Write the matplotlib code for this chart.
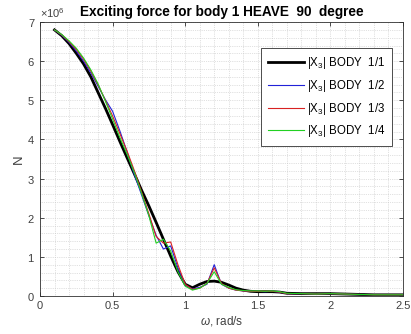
import matplotlib
matplotlib.use("Agg")
import matplotlib.pyplot as plt
from matplotlib.ticker import MultipleLocator, ScalarFormatter

plt.rcParams['font.family'] = ['Liberation Sans', 'DejaVu Sans']
plt.rcParams['mathtext.fontset'] = 'custom'
plt.rcParams['mathtext.rm'] = 'Liberation Sans'
plt.rcParams['mathtext.it'] = 'Liberation Sans:italic'

omega = [0.10, 0.15, 0.20, 0.25, 0.30, 0.35, 0.40, 0.45, 0.50, 0.55, 0.60, 0.65,
         0.70, 0.75, 0.80, 0.85, 0.90, 0.95, 1.00, 1.05, 1.10, 1.15, 1.20, 1.25,
         1.30, 1.35, 1.40, 1.45, 1.50, 1.55, 1.60, 1.65, 1.70, 1.80, 1.90, 2.00,
         2.10, 2.20, 2.30, 2.40, 2.50]

body_1_1 = [6.80, 6.65, 6.45, 6.20, 5.93, 5.60, 5.20, 4.80, 4.38, 3.95, 3.53, 3.12,
            2.70, 2.30, 1.88, 1.45, 1.02, 0.62, 0.30, 0.21, 0.30, 0.37, 0.38, 0.35,
            0.28, 0.20, 0.15, 0.12, 0.11, 0.11, 0.11, 0.10, 0.07, 0.06, 0.06, 0.06,
            0.05, 0.04, 0.03, 0.03, 0.03]
body_1_2 = [6.80, 6.66, 6.48, 6.26, 6.00, 5.70, 5.36, 5.02, 4.72, 4.22, 3.68, 3.10,
            2.58, 2.05, 1.55, 1.20, 1.28, 0.72, 0.28, 0.18, 0.22, 0.30, 0.80, 0.30,
            0.20, 0.15, 0.13, 0.12, 0.12, 0.11, 0.12, 0.10, 0.06, 0.06, 0.05, 0.06,
            0.05, 0.04, 0.03, 0.03, 0.03]
body_1_3 = [6.80, 6.67, 6.50, 6.30, 6.05, 5.75, 5.40, 5.00, 4.60, 4.15, 3.70, 3.20,
            2.65, 2.10, 1.52, 1.35, 1.38, 0.80, 0.30, 0.17, 0.20, 0.32, 0.72, 0.32,
            0.20, 0.15, 0.13, 0.12, 0.12, 0.12, 0.12, 0.10, 0.06, 0.06, 0.05, 0.06,
            0.05, 0.04, 0.03, 0.03, 0.03]
body_1_4 = [6.80, 6.68, 6.52, 6.33, 6.08, 5.78, 5.42, 4.98, 4.52, 4.05, 3.62, 3.15,
            2.62, 2.05, 1.35, 1.45, 1.15, 0.62, 0.25, 0.15, 0.20, 0.32, 0.62, 0.30,
            0.22, 0.16, 0.14, 0.13, 0.13, 0.12, 0.13, 0.11, 0.07, 0.06, 0.05, 0.06,
            0.05, 0.04, 0.03, 0.03, 0.03]

labels = ['|X$_3$| BODY  1/1', '|X$_3$| BODY  1/2', '|X$_3$| BODY  1/3', '|X$_3$| BODY  1/4']
colors = ['black', '#2222d8', '#d82222', '#22d022']
widths = [2.0, 0.8, 0.8, 0.8]
series = [body_1_1, body_1_2, body_1_3, body_1_4]

fig = plt.figure(figsize=(4.11, 3.34), dpi=100)
ax = fig.add_axes([0.0973, 0.1138, 0.8832, 0.8202])

scale = 1e6
for s, lab, c, w in zip(series, labels, colors, widths):
    ax.plot(omega, [v * scale for v in s], color=c, lw=w, label=lab, zorder=3 if c == 'black' else 4)

ax.set_xlim(0, 2.5)
ax.set_ylim(0, 7e6)
ax.xaxis.set_major_locator(MultipleLocator(0.5))
ax.xaxis.set_minor_locator(MultipleLocator(0.1))
ax.yaxis.set_major_locator(MultipleLocator(1e6))
ax.yaxis.set_minor_locator(MultipleLocator(0.2e6))

fmt = ScalarFormatter(useMathText=True)
fmt.set_powerlimits((0, 0))
ax.yaxis.set_major_formatter(fmt)
ax.xaxis.set_major_formatter(matplotlib.ticker.FormatStrFormatter('%g'))
ax.yaxis.get_offset_text().set_fontsize(8)
ax.yaxis.get_offset_text().set_color('#555555')

ax.grid(True, which='both', linestyle=':', color='#c4c4c4', linewidth=0.5)
ax.set_axisbelow(True)
ax.tick_params(which='major', direction='in', top=True, right=True, length=3,
               labelsize=8, colors='#303030', labelcolor='#404040', width=0.6)
ax.tick_params(which='minor', length=0, top=True, right=True)
for sp in ax.spines.values():
    sp.set_color('#303030')
    sp.set_linewidth(0.6)

ax.set_title('Exciting force for body 1 HEAVE  90  degree', fontsize=9.8, fontweight='bold', pad=4)
ax.set_xlabel(r'$\mathit{\omega}$, rad/s', fontsize=8.5, color='#404040', labelpad=2)
ax.set_ylabel('N', fontsize=9.5, color='#404040', labelpad=2)

leg = ax.legend(loc='upper right', bbox_to_anchor=(0.986, 0.927), fontsize=8.3,
                handlelength=3.2, handletextpad=0.2, borderpad=0.6, labelspacing=0.6,
                fancybox=False, framealpha=1, edgecolor='#303030')
leg.get_frame().set_linewidth(0.6)

fig.savefig('out.png', dpi=100)
